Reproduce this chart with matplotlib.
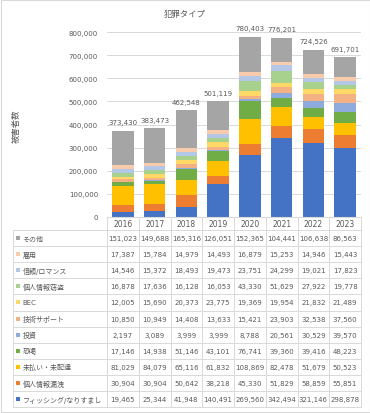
import matplotlib.pyplot as plt
from matplotlib.patches import Rectangle
import numpy as np

plt.rcParams['font.family'] = ['DejaVu Sans', 'Noto Sans CJK JP']

# データ
years = ['2016', '2017', '2018', '2019', '2020', '2021', '2022', '2023']

# 積み上げ順（下から上）
categories = ['フィッシング/なりすまし', '個人情報漏洩', '未払い・未配達', '恐喝', '投資',
              '技術サポート', 'BEC', '個人情報窃盗', '信頼/ロマンス', '雇用', 'その他']

phishing = [19465, 25344, 41948, 140491, 269560, 342494, 321146, 298878]
leak = [30904, 30904, 50642, 38218, 45330, 51829, 58859, 55851]
nonpayment = [81029, 84079, 65116, 61832, 108869, 82478, 51679, 50523]
extortion = [17146, 14938, 51146, 43101, 76741, 39360, 39416, 48223]
investment = [2197, 3089, 3999, 3999, 8788, 20561, 30529, 39570]
tech_support = [10850, 10949, 14408, 13633, 15421, 23903, 32538, 37560]
bec = [12005, 15690, 20373, 23775, 19369, 19954, 21832, 21489]
id_theft = [16878, 17636, 16128, 16053, 43330, 51629, 27922, 19778]
romance = [14546, 15372, 18493, 19473, 23751, 24299, 19021, 17823]
employment = [17387, 15784, 14979, 14493, 16879, 15253, 14946, 15443]
other = [151023, 149688, 165316, 126051, 152365, 104441, 106638, 86563]

series = [phishing, leak, nonpayment, extortion, investment, tech_support,
          bec, id_theft, romance, employment, other]
colors = ['#4472C4', '#ED7D31', '#FFC000', '#70AD47', '#8FAADC', '#F4B183',
          '#FFD966', '#A9D18E', '#B4C7E7', '#F8CBAD', '#A5A5A5']

W, H = 370, 414
txt = '#595959'
grid = '#D9D9D9'

# レイアウト（ピクセル）
plot_l, plot_r = 107, 361
plot_top, plot_bot = 33.3, 217.7
tab_l = 13
row0 = 231
row_h = 16.1

fig = plt.figure(figsize=(W / 100, H / 100), dpi=100)
ax = fig.add_axes([plot_l / W, 1 - plot_bot / H, (plot_r - plot_l) / W, (plot_bot - plot_top) / H])

x = np.arange(len(years))
bottom = np.zeros(len(years))
for vals, c in zip(series, colors):
    ax.bar(x, vals, bottom=bottom, width=0.68, color=c, zorder=3)
    bottom += np.array(vals)

for xi, tot in zip(x, bottom):
    ax.annotate(f'{int(tot):,}', (xi, tot), xytext=(0, 4), textcoords='offset points',
                ha='center', va='bottom', fontsize=5, color=txt, annotation_clip=False)

ax.set_xlim(-0.5, len(years) - 0.5)
ax.set_ylim(0, 800000)
ax.set_yticks(np.arange(0, 800001, 100000))
ax.yaxis.set_major_formatter(plt.FuncFormatter(lambda v, p: f'{int(v):,}'))
ax.tick_params(axis='y', length=0, labelsize=5, labelcolor=txt, pad=6.5)
ax.set_xticks([])
ax.grid(axis='y', color=grid, linewidth=0.7, zorder=0)
for s in ax.spines.values():
    s.set_visible(False)

# 表とラベル用のオーバーレイ（ピクセル座標）
ov = fig.add_axes([0, 0, 1, 1], facecolor='none')
ov.set_xlim(0, W)
ov.set_ylim(H, 0)
ov.axis('off')

col_w = (plot_r - plot_l) / len(years)
n_rows = len(categories)
tab_bot = row0 + n_rows * row_h

# 罫線
ov.plot([plot_l, plot_r], [plot_bot, plot_bot], color=grid, lw=0.8)
for k in range(n_rows + 1):
    y = row0 + k * row_h
    ov.plot([tab_l, plot_r], [y, y], color=grid, lw=0.7)
for i in range(len(years) + 1):
    xx = plot_l + i * col_w
    ov.plot([xx, xx], [plot_bot, tab_bot], color=grid, lw=0.7)
ov.plot([tab_l, tab_l], [row0, tab_bot], color=grid, lw=0.7)

# 年ラベル
for i, yr in enumerate(years):
    ov.text(plot_l + (i + 0.5) * col_w, (plot_bot + row0) / 2 + 0.5, yr,
            ha='center', va='center', fontsize=5.5, color=txt)

# 表の中身（上から その他 → フィッシング）
for r, k in enumerate(range(n_rows - 1, -1, -1)):
    yc = row0 + (r + 0.5) * row_h
    ov.add_patch(Rectangle((16, yc - 2), 4, 4, color=colors[k], lw=0))
    ov.text(22.5, yc, categories[k], ha='left', va='center', fontsize=5, color=txt)
    for i, v in enumerate(series[k]):
        ov.text(plot_l + (i + 0.5) * col_w, yc, f'{v:,}', ha='center', va='center',
                fontsize=5, color=txt)

# タイトル・軸ラベル
ov.text(W / 2, 14, '犯罪タイプ', ha='center', va='center', fontsize=6, color=txt)
ov.text(16, 126, '被害者数', ha='center', va='center', rotation=90, fontsize=6, color=txt)

# 外枠
ov.add_patch(Rectangle((0.5, 0.5), W - 1, H - 1, fill=False, edgecolor=grid, lw=0.8))

fig.savefig('out.png', dpi=100)
